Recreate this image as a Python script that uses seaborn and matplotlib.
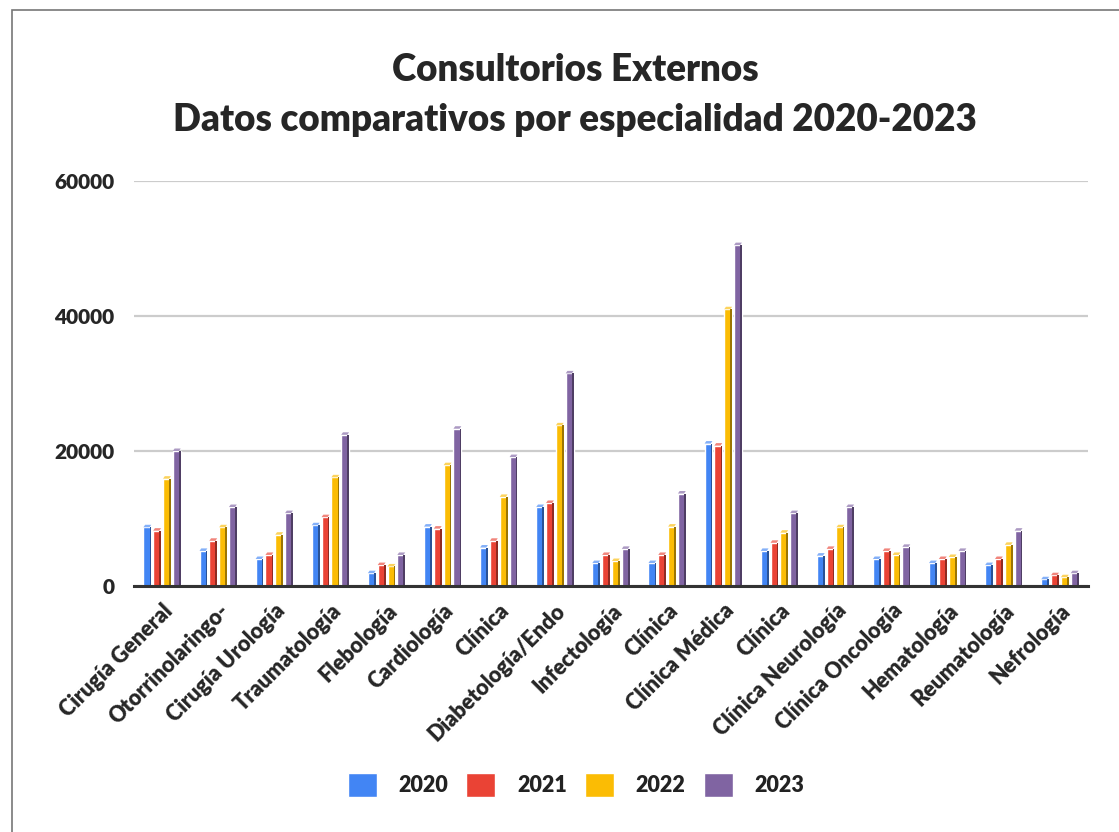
import pandas as pd
import numpy as np
import matplotlib.pyplot as plt
import matplotlib.colors as mcolors
from matplotlib.patches import Rectangle, Polygon
import seaborn as sns

especialidades = ['Cirugía General', 'Otorrinolaringo-', 'Cirugía Urología', 'Traumatología',
                  'Flebología', 'Cardiología', 'Clínica', 'Diabetología/Endo', 'Infectología',
                  'Clínica', 'Clínica Médica', 'Clínica', 'Clínica Neurología',
                  'Clínica Oncología', 'Hematología', 'Reumatología', 'Nefrología']
anios = ['2020', '2021', '2022', '2023']
v2020 = [8700, 5200, 4000, 9000, 1900, 8800, 5700, 11700, 3400, 3400, 21100, 5200, 4500, 4000, 3400, 3100, 1000]
v2021 = [8200, 6700, 4600, 10200, 3100, 8500, 6700, 12300, 4600, 4600, 20800, 6400, 5500, 5200, 4000, 4000, 1600]
v2022 = [15900, 8700, 7600, 16100, 2900, 17900, 13200, 23800, 3700, 8800, 41000, 7900, 8700, 4600, 4300, 6100, 1300]
v2023 = [20000, 11700, 10800, 22400, 4600, 23300, 19100, 31500, 5500, 13700, 50500, 10800, 11700, 5800, 5200, 8200, 1900]
colores = ['#4285F4', '#EA4335', '#FBBC04', '#8064A2']

# long format; position index keeps the repeated "Clínica" labels apart
rows = []
for anio, vals in zip(anios, [v2020, v2021, v2022, v2023]):
    for i, v in enumerate(vals):
        rows.append({'pos': i, 'anio': anio, 'valor': v})
df = pd.DataFrame(rows)

sns.set_style('white')
plt.rcParams['font.family'] = ['Lato', 'DejaVu Sans']

fig = plt.figure(figsize=(11.19, 8.32), dpi=100)
ax = fig.add_axes([134/1119, 1-586/832, (1088-134)/1119, (586-181)/832])

sns.barplot(data=df, x='pos', y='valor', hue='anio', hue_order=anios,
            palette=colores, width=0.7, gap=0.2, saturation=1, ax=ax)

# fake 3D look: darker side strip and lighter top cap on each bar
cap = 60000 / 405 * 2.5
for bar in list(ax.patches):
    if bar.get_height() <= 0:
        continue
    x, y = bar.get_x(), bar.get_y()
    w, h = bar.get_width(), bar.get_height()
    base = np.array(mcolors.to_rgb(bar.get_facecolor()))
    side = w * 0.22
    ax.add_patch(Rectangle((x + w - side, y), side, h, facecolor=base * 0.62,
                           edgecolor='none', zorder=bar.get_zorder() + 0.1))
    light = base + (1 - base) * 0.35
    ax.add_patch(Polygon([[x, y + h], [x + w - side, y + h], [x + w, y + h + cap],
                          [x + side, y + h + cap]], closed=True, facecolor=light,
                         edgecolor='none', zorder=bar.get_zorder() + 0.1))

ax.set_ylim(0, 60000)
ax.set_xlim(-0.5, len(especialidades) - 0.5)
ax.set_yticks([0, 20000, 40000, 60000])
ax.set_yticklabels(['0', '20000', '40000', '60000'], fontsize=15, fontweight='heavy')
ax.set_xticks(range(len(especialidades)))
ax.set_xticklabels(especialidades, rotation=45, ha='right', rotation_mode='anchor',
                   fontsize=15.5, fontweight='heavy')
ax.tick_params(axis='both', length=0)
ax.tick_params(axis='y', pad=14)
ax.tick_params(axis='x', pad=10)
ax.set_xlabel('')
ax.set_ylabel('')
ax.yaxis.grid(True, color='#cccccc', linewidth=1.6)
ax.set_axisbelow(True)
for s in ['top', 'right', 'left']:
    ax.spines[s].set_visible(False)
ax.spines['bottom'].set_color('#333333')
ax.spines['bottom'].set_linewidth(2.2)
ax.spines['bottom'].set_zorder(5)

fig.text(575/1119, 1-70/832, 'Consultorios Externos', ha='center', va='center',
         fontsize=26.5, fontweight='heavy')
fig.text(575/1119, 1-120/832, 'Datos comparativos por especialidad 2020-2023', ha='center',
         va='center', fontsize=26.5, fontweight='heavy')

sns.move_legend(ax, 'center', bbox_to_anchor=(576/1119, 1-785/832),
                bbox_transform=fig.transFigure, ncol=4, frameon=False, title=None,
                fontsize=15.5, handlelength=1.35, handleheight=1.35, columnspacing=0.85,
                handletextpad=1.0)
for t in ax.get_legend().get_texts():
    t.set_fontweight('heavy')
    t.set_color('#222222')

# outer frame of the chart
fig.patches.append(Rectangle((12/1119, -0.1), 1.2, 1 - 10/832 + 0.1, transform=fig.transFigure,
                             fill=False, edgecolor='#777777', linewidth=1.2))

fig.savefig('out.png', dpi=100)
